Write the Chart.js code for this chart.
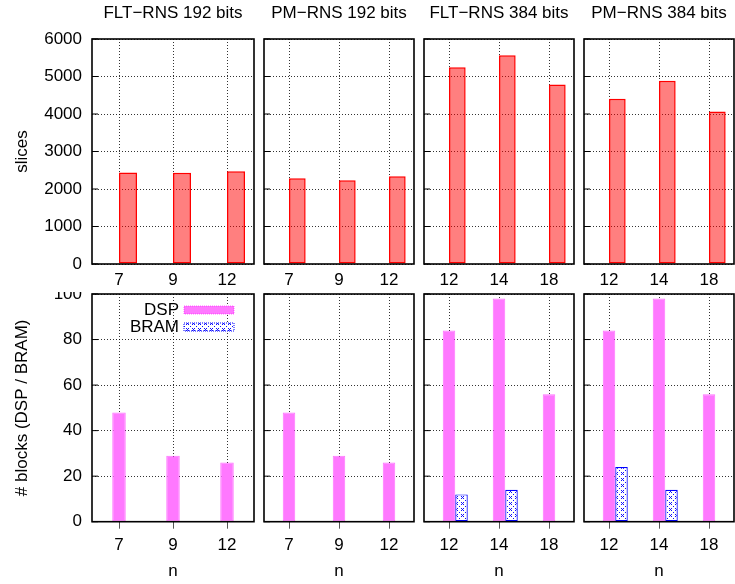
<!DOCTYPE html>
<html>
<head>
<meta charset="utf-8">
<script src="https://cdn.jsdelivr.net/npm/chart.js@4.4.1/dist/chart.umd.min.js"></script>
<style>
body { margin: 0; background: #fff; }
#wrap { position: relative; width: 735px; height: 584px; }
canvas { position: absolute; }
</style>
</head>
<body>
<div id="wrap"></div>
<script>
// data
const titles = ['FLT−RNS 192 bits', 'PM−RNS 192 bits', 'FLT−RNS 384 bits', 'PM−RNS 384 bits'];
const nLabels = [['7', '9', '12'], ['7', '9', '12'], ['12', '14', '18'], ['12', '14', '18']];
const slices = [[2440, 2435, 2475], [2285, 2232, 2338], [5245, 5565, 4790], [4405, 4885, 4070]];
const dsp = [[48, 29, 26], [48, 29, 26], [84, 98, 56], [84, 98, 56]];
const bram = [[0, 0, 0], [0, 0, 0], [12, 14, 0], [24, 14, 0]];
const sliceTicks = [0, 1000, 2000, 3000, 4000, 5000, 6000];
const blockTicks = [0, 20, 40, 60, 80, 100];

Chart.defaults.font.family = '"Liberation Sans", Arial, sans-serif';
Chart.defaults.font.size = 17;
Chart.defaults.color = '#000';

// panel geometry
const cols = [
    { left: 0, w: 259, padL: 0, padR: 5, yw: 92 },
    { left: 259, w: 160, padL: 5, padR: 5, yw: 0 },
    { left: 419, w: 160, padL: 5, padR: 5, yw: 0 },
    { left: 579, w: 156, padL: 5, padR: 1, yw: 0 }
];
const rowH = 292;

function makePattern() {
    const c = document.createElement('canvas');
    c.width = 6; c.height = 6;
    const g = c.getContext('2d');
    g.fillStyle = '#fff';
    g.fillRect(0, 0, 6, 6);
    g.fillStyle = '#1010ff';
    // small crosses and dots
    g.fillRect(0, 0, 1, 1);
    g.fillRect(2, 0, 1, 1);
    g.fillRect(1, 1, 1, 1);
    g.fillRect(0, 2, 1, 1);
    g.fillRect(2, 2, 1, 1);
    g.fillRect(4, 4, 1, 1);
    return g.createPattern(c, 'repeat');
}
const bramFill = makePattern();

const gridStyle = { color: 'rgba(0,0,0,0.8)', lineWidth: 1 };
const noBorder = { display: false, dash: [1, 2] };

const framePlugin = {
    id: 'frame',
    afterDraw(chart) {
        const { ctx, chartArea: a } = chart;
        const ys = chart.scales.y;
        ctx.save();
        ctx.strokeStyle = '#000';
        ctx.lineWidth = 1;
        ys.ticks.forEach(t => {
            const py = ys.getPixelForValue(t.value);
            ctx.beginPath();
            ctx.moveTo(a.left, py);
            ctx.lineTo(a.left + 6, py);
            ctx.stroke();
        });
        ctx.lineWidth = 1.6;
        ctx.strokeRect(a.left, a.top, a.right - a.left, a.bottom - a.top);
        ctx.restore();
    }
};

const keyPlugin = {
    id: 'keybox',
    afterDraw(chart, args, opts) {
        if (!opts.show) return;
        const { ctx, chartArea: a } = chart;
        const items = chart.data.datasets.filter(d => d.label);
        ctx.save();
        ctx.font = '17px "Liberation Sans", Arial, sans-serif';
        ctx.textAlign = 'right';
        ctx.textBaseline = 'middle';
        items.forEach((d, i) => {
            const cy = a.top + 16 + i * 17;
            ctx.fillStyle = '#000';
            ctx.fillText(d.label, a.right - 75, cy);
            ctx.fillStyle = d.backgroundColor;
            ctx.fillRect(a.right - 70, cy - 4, 50, 8);
            ctx.strokeStyle = d.borderColor;
            ctx.lineWidth = 1;
            ctx.setLineDash([1, 1]);
            ctx.strokeRect(a.right - 70, cy - 4, 50, 8);
        });
        ctx.restore();
    }
};

const wrap = document.getElementById('wrap');

function addCanvas(col, top) {
    const cv = document.createElement('canvas');
    cv.width = col.w;
    cv.height = rowH;
    cv.style.left = col.left + 'px';
    cv.style.top = top + 'px';
    wrap.appendChild(cv);
    return cv;
}

const plain = v => String(v);

cols.forEach((col, i) => {
    // top row: slices
    new Chart(addCanvas(col, 0), {
        type: 'bar',
        data: {
            labels: nLabels[i],
            datasets: [
                { data: [null, null, null] },
                {
                    label: 'slices',
                    data: slices[i],
                    backgroundColor: 'rgba(255,0,0,0.5)',
                    borderColor: '#ff0000',
                    borderWidth: 1.5,
                    borderSkipped: false
                }
            ]
        },
        options: {
            responsive: false,
            animation: false,
            devicePixelRatio: 1,
            categoryPercentage: 2 / 3,
            barPercentage: 1,
            layout: { padding: { left: col.padL, right: col.padR, top: 0, bottom: 0 } },
            plugins: {
                legend: { display: false },
                tooltip: { enabled: false },
                title: {
                    display: true,
                    text: titles[i],
                    fullSize: false,
                    font: { size: 17, weight: 'normal' },
                    padding: { top: 2.8, bottom: 15.8 }
                }
            },
            scales: {
                x: {
                    offset: true,
                    grid: { ...gridStyle, offset: false, drawTicks: false },
                    border: noBorder,
                    ticks: { padding: 5.8 },
                    afterFit(s) { s.height = 28; s.paddingLeft = 0; s.paddingRight = 0; }
                },
                y: {
                    min: 0, max: 6000,
                    grid: { ...gridStyle, drawTicks: false },
                    border: noBorder,
                    ticks: { display: col.yw > 0, padding: 10, callback: plain },
                    title: { display: col.yw > 0, text: 'slices', padding: { top: 12.3 } },
                    afterBuildTicks(s) { s.ticks = sliceTicks.map(v => ({ value: v })); },
                    afterFit(s) { s.width = col.yw; s.paddingTop = 0; s.paddingBottom = 0; }
                }
            }
        },
        plugins: [framePlugin]
    });

    // bottom row: DSP / BRAM blocks
    new Chart(addCanvas(col, rowH), {
        type: 'bar',
        data: {
            labels: nLabels[i],
            datasets: [
                { data: [null, null, null] },
                {
                    label: 'DSP',
                    data: dsp[i],
                    backgroundColor: 'rgb(255,120,255)',
                    borderColor: 'rgba(255,0,255,0.55)',
                    borderWidth: 1,
                    borderSkipped: false
                },
                {
                    label: 'BRAM',
                    data: bram[i],
                    backgroundColor: bramFill,
                    borderColor: '#0000ff',
                    borderWidth: 1.2,
                    borderSkipped: false
                }
            ]
        },
        options: {
            responsive: false,
            animation: false,
            devicePixelRatio: 1,
            categoryPercentage: 0.75,
            barPercentage: 1,
            layout: { padding: { left: col.padL, right: col.padR, top: 2, bottom: 0 } },
            plugins: {
                legend: { display: false },
                tooltip: { enabled: false },
                keybox: { show: i === 0 }
            },
            scales: {
                x: {
                    offset: true,
                    grid: { ...gridStyle, offset: false, drawTicks: true, tickLength: 7, tickColor: '#555', tickBorderDash: [] },
                    border: noBorder,
                    ticks: { padding: 6.1 },
                    title: { display: true, text: 'n', padding: { top: 0, bottom: 2.3 } },
                    afterFit(s) { s.height = 62.3; s.paddingLeft = 0; s.paddingRight = 0; }
                },
                y: {
                    min: 0, max: 100,
                    grid: { ...gridStyle, drawTicks: false },
                    border: noBorder,
                    ticks: { display: col.yw > 0, padding: 10, callback: plain },
                    title: { display: col.yw > 0, text: '# blocks (DSP / BRAM)', padding: { top: 12.3 } },
                    afterBuildTicks(s) { s.ticks = blockTicks.map(v => ({ value: v })); },
                    afterFit(s) { s.width = col.yw; s.paddingTop = 0; s.paddingBottom = 0; }
                }
            }
        },
        plugins: [framePlugin, keyPlugin]
    });
});
</script>
</body>
</html>
